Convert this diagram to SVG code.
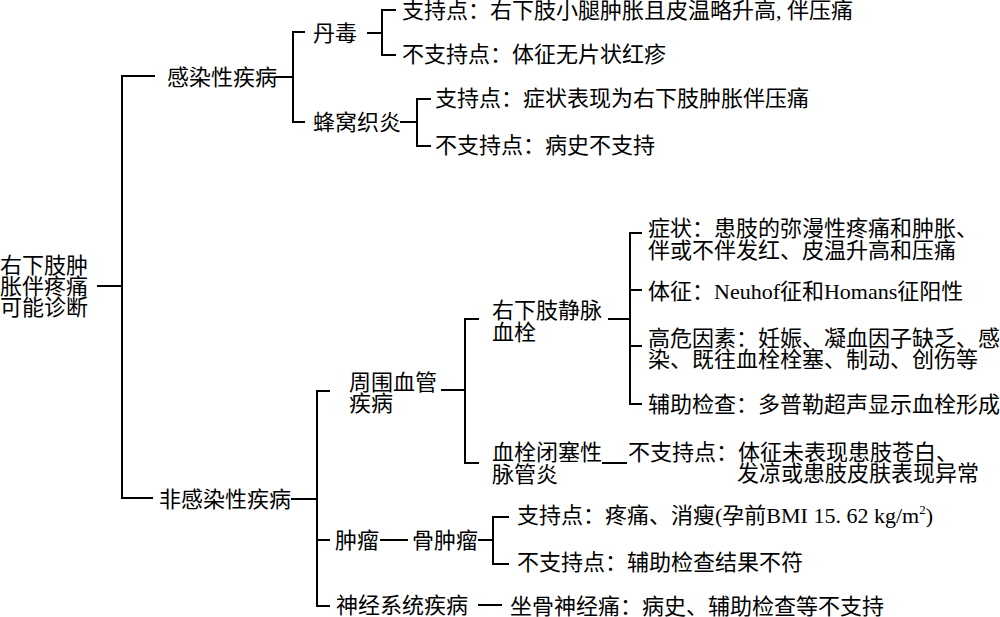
<svg xmlns="http://www.w3.org/2000/svg" width="1000" height="617" viewBox="0 0 1000 617">
<style>
text{font-family:"Liberation Serif","Noto Sans CJK SC",serif;font-size:22px;fill:#000}
.c line,.c path{stroke:#000;stroke-width:2;fill:none}
</style>
<rect width="1000" height="617" fill="#fff"/>
<g class="c" id="connectors">
<line x1="97" y1="286" x2="122" y2="286"/>
<path d="M155 76H122V498H153"/>
<line x1="275" y1="77" x2="293" y2="77"/>
<path d="M305 32H293V122H305"/>
<line x1="367" y1="33" x2="382" y2="33"/>
<path d="M396 10H382V55H396"/>
<line x1="400" y1="122" x2="417" y2="122"/>
<path d="M431 99H417V146H431"/>
<line x1="291" y1="499" x2="317" y2="499"/>
<path d="M330 391H317V606H330"/>
<line x1="317" y1="540" x2="330" y2="540"/>
<line x1="441" y1="390" x2="465" y2="390"/>
<path d="M479 319H465V463H479"/>
<line x1="608" y1="319" x2="630" y2="319"/>
<path d="M642 233H630V404H642"/>
<line x1="630" y1="290" x2="642" y2="290"/>
<line x1="630" y1="346" x2="642" y2="346"/>
<line x1="602" y1="463" x2="627" y2="463"/>
<line x1="380" y1="540" x2="408" y2="540"/>
<line x1="478" y1="540" x2="493" y2="540"/>
<path d="M509 517H493V564H509"/>
<line x1="478" y1="605" x2="502" y2="605"/>
</g>
<g id="root"><text x="0" y="273">右下肢肿<tspan x="0" y="294">胀伴疼痛</tspan><tspan x="0" y="315">可能诊断</tspan></text></g>
<g id="infect"><text x="167" y="85">感染性疾病</text></g>
<g id="dandu"><text x="313" y="41">丹毒</text></g>
<g id="dandu-yes"><text x="402" y="18">支持点：右下肢小腿肿胀且皮温略升高, 伴压痛</text></g>
<g id="dandu-no"><text x="402" y="62">不支持点：体征无片状红疹</text></g>
<g id="fwzy"><text x="313" y="130">蜂窝织炎</text></g>
<g id="fwzy-yes"><text x="435" y="106">支持点：症状表现为右下肢肿胀伴压痛</text></g>
<g id="fwzy-no"><text x="435" y="153">不支持点：病史不支持</text></g>
<g id="noninfect"><text x="159" y="507">非感染性疾病</text></g>
<g id="vascular"><text x="349" y="390">周围血管<tspan x="349" y="411">疾病</tspan></text></g>
<g id="dvt"><text x="492" y="318">右下肢静脉<tspan x="492" y="340">血栓</tspan></text></g>
<g id="dvt-sym"><text x="648" y="236">症状：患肢的弥漫性疼痛和肿胀、<tspan x="648" y="258">伴或不伴发红、皮温升高和压痛</tspan></text></g>
<g id="dvt-sign"><text x="648" y="299">体征：Neuhof征和Homans征阳性</text></g>
<g id="dvt-risk"><text x="648" y="346">高危因素：妊娠、凝血因子缺乏、感<tspan x="648" y="367">染、既往血栓栓塞、制动、创伤等</tspan></text></g>
<g id="dvt-exam"><text x="648" y="412">辅助检查：多普勒超声显示血栓形成</text></g>
<g id="tao"><text x="492" y="460">血栓闭塞性<tspan x="492" y="482">脉管炎</tspan></text></g>
<g id="tao-no"><text x="628" y="460">不支持点：体征未表现患肢苍白、<tspan x="737" y="481">发凉或患肢皮肤表现异常</tspan></text></g>
<g id="tumor"><text x="335" y="548">肿瘤</text></g>
<g id="bone-tumor"><text x="412" y="548">骨肿瘤</text></g>
<g id="bone-yes"><text x="517" y="523">支持点：疼痛、消瘦(孕前BMI 15. 62 kg/m<tspan font-size="13" dy="-9">2</tspan><tspan dy="9">)</tspan></text></g>
<g id="bone-no"><text x="517" y="570">不支持点：辅助检查结果不符</text></g>
<g id="neuro"><text x="336" y="613">神经系统疾病</text></g>
<g id="sciatica"><text x="510" y="614">坐骨神经痛：病史、辅助检查等不支持</text></g>
</svg>
